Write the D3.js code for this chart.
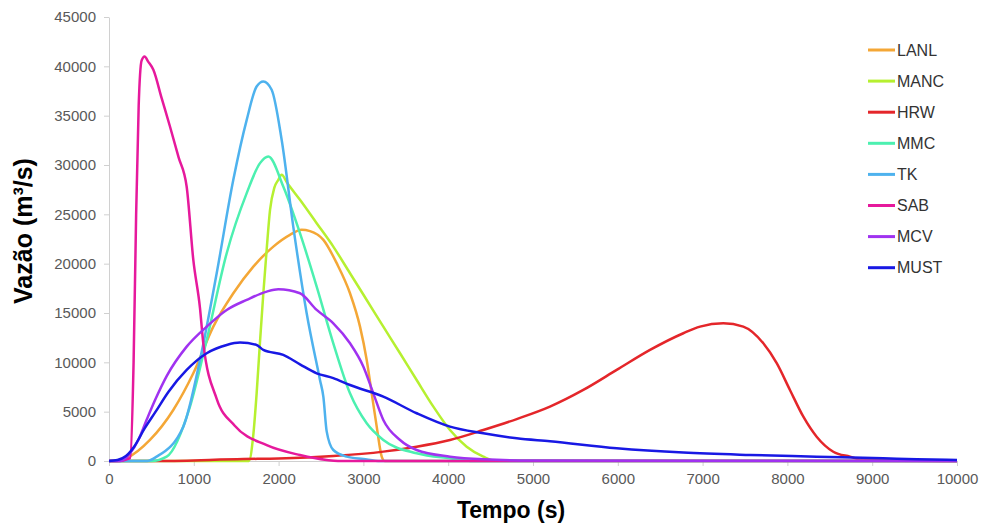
<!DOCTYPE html>
<html>
<head>
<meta charset="utf-8">
<script src="https://cdn.jsdelivr.net/npm/d3@7"></script>
<style>
  body { margin: 0; background: #fff; }
  .axis text { font-family: "Liberation Sans", Arial, sans-serif; font-size: 15px; fill: #595959; }
  .axis path, .axis line { stroke: #d0d0d0; }
</style>
</head>
<body>
<div id="chart"></div>
<script>
// tick values
var xTicks = [0, 1000, 2000, 3000, 4000, 5000, 6000, 7000, 8000, 9000, 10000];
var yTicks = [0, 5000, 10000, 15000, 20000, 25000, 30000, 35000, 40000, 45000];

// hydrographs, [tempo (s), vazao (m3/s)]
var LANL = [[0,0],[150,50],[208,270],[483,2130],[758,5170],[994,8890],[1230,13620],[1466,17000],[1702,19700],[1938,21730],[2134,22920],[2272,23430],[2370,23300],[2528,22410],[2685,20050],[2842,17000],[2960,13620],[3039,10240],[3098,6860],[3157,3480],[3216,440],[3250,0],[10000,0]];
var MANC = [[0,0],[1650,0],[1700,2500],[1741,6860],[1780,12000],[1820,17000],[1860,21500],[1899,25450],[1950,27700],[1997,28500],[2036,29000],[2100,28200],[2252,26470],[2449,24100],[2645,21730],[2842,19030],[3039,16320],[3235,13620],[3432,10920],[3628,8210],[3825,5510],[4021,3140],[4218,1450],[4414,440],[4550,50],[10000,0]];
var HRW = [[0,0],[600,0],[1584,200],[2000,250],[2645,500],[3235,950],[3628,1450],[4021,2130],[4414,3140],[4808,4250],[5200,5510],[5593,7200],[5987,9230],[6380,11260],[6773,12950],[6970,13620],[7244,13960],[7480,13620],[7716,11930],[7874,9910],[8030,7200],[8188,4490],[8345,2460],[8541,940],[8738,440],[8900,100],[10000,0]];
var MMC = [[0,0],[500,0],[680,440],[955,5510],[1152,12270],[1388,21060],[1624,27150],[1781,30190],[1879,30860],[2055,27820],[2252,23090],[2449,17680],[2645,11930],[2842,6860],[3039,3820],[3235,2130],[3628,780],[4021,270],[4300,0],[10000,0]];
var TK = [[0,0],[450,0],[562,440],[876,3480],[1073,10240],[1270,19030],[1466,28500],[1624,34580],[1741,37960],[1820,38470],[1918,37630],[2036,32560],[2173,23760],[2331,14980],[2488,8220],[2528,6500],[2567,3000],[2645,1115],[2803,440],[3000,200],[3200,0],[10000,0]];
var SAB = [[0,0],[100,0],[250,300],[290,10000],[320,25000],[350,36000],[385,40600],[420,41000],[460,40500],[523,39650],[620,36800],[719,33900],[820,30800],[916,27800],[994,20400],[1073,15500],[1112,11930],[1270,6300],[1480,3600],[1860,1600],[2252,600],[2567,100],[2700,0],[10000,0]];
var MCV = [[0,0],[130,0],[250,800],[350,2200],[450,4300],[550,6300],[680,8600],[916,11590],[1152,13620],[1388,15310],[1624,16330],[1860,17170],[1997,17410],[2252,17000],[2449,15310],[2645,13960],[2842,11930],[3000,9560],[3117,6860],[3235,4160],[3432,2130],[3628,1115],[4021,440],[4414,170],[5000,50],[10000,0]];
var MUST = [[0,0],[100,100],[200,500],[300,1500],[420,3300],[550,5000],[700,7000],[916,9230],[1152,10920],[1388,11760],[1545,12000],[1741,11760],[1820,11260],[2055,10750],[2252,9800],[2449,8890],[2645,8400],[2842,7700],[3235,6520],[3628,4840],[4021,3480],[4414,2810],[4808,2300],[5200,2000],[5987,1290],[6773,850],[7559,610],[8345,440],[9131,270],[9525,170],[10000,100]];

var names = ["LANL", "MANC", "HRW", "MMC", "TK", "SAB", "MCV", "MUST"];
var series = [LANL, MANC, HRW, MMC, TK, SAB, MCV, MUST];
var colors = ["#f4a736", "#b6f030", "#e4262a", "#4cf0b0", "#4eb2ee", "#e6199c", "#a032f0", "#1818e4"];

var W = 982, H = 523;
var svg = d3.select("#chart")
  .append("svg")
  .attr("width", W)
  .attr("height", H);

var x = d3.scaleLinear().domain([0, 10000]).range([109, 957]);
var y = d3.scaleLinear().domain([0, 45000]).range([461, 17]);

// axes
svg.append("g")
  .attr("class", "axis")
  .attr("transform", "translate(0,461)")
  .call(d3.axisBottom(x).tickValues(xTicks).tickSize(5).tickSizeOuter(0).tickPadding(7).tickFormat(d3.format("d")));

svg.append("g")
  .attr("class", "axis")
  .attr("transform", "translate(109,0)")
  .call(d3.axisLeft(y).tickValues(yTicks).tickSize(5).tickSizeOuter(0).tickPadding(8).tickFormat(d3.format("d")));

// lines
var line = d3.line()
  .x(function (d) { return x(d[0]); })
  .y(function (d) { return y(d[1]); })
  .curve(d3.curveMonotoneX);

svg.selectAll(".serie")
  .data(series)
  .enter()
  .append("path")
  .attr("class", "serie")
  .attr("fill", "none")
  .attr("stroke", function (d, i) { return colors[i]; })
  .attr("stroke-width", 2.5)
  .attr("stroke-linejoin", "round")
  .attr("d", line);

// legend
var legend = svg.append("g").attr("transform", "translate(868,50)");
legend.selectAll("line")
  .data(names)
  .enter()
  .append("line")
  .attr("x1", 0)
  .attr("x2", 27)
  .attr("y1", function (d, i) { return i * 31.1; })
  .attr("y2", function (d, i) { return i * 31.1; })
  .attr("stroke", function (d, i) { return colors[i]; })
  .attr("stroke-width", 3);
legend.selectAll("text")
  .data(names)
  .enter()
  .append("text")
  .attr("x", 29)
  .attr("y", function (d, i) { return i * 31.1; })
  .attr("dy", "0.36em")
  .style("font-family", "'Liberation Sans', Arial, sans-serif")
  .style("font-size", "16px")
  .style("fill", "#333")
  .text(function (d) { return d; });

// axis titles
svg.append("text")
  .attr("transform", "translate(32,231) rotate(-90)")
  .attr("text-anchor", "middle")
  .style("font-family", "'Liberation Sans', Arial, sans-serif")
  .style("font-weight", "bold")
  .style("font-size", "25px")
  .text("Vazão (m³/s)");

svg.append("text")
  .attr("x", 511)
  .attr("y", 518)
  .attr("text-anchor", "middle")
  .style("font-family", "'Liberation Sans', Arial, sans-serif")
  .style("font-weight", "bold")
  .style("font-size", "23px")
  .text("Tempo (s)");
</script>
</body>
</html>
